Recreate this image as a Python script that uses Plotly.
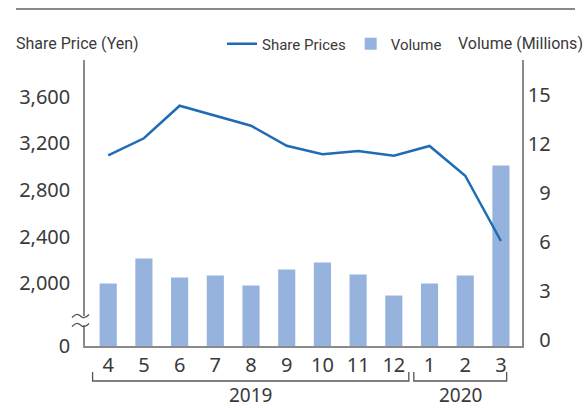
import plotly.graph_objects as go

months = ["4", "5", "6", "7", "8", "9", "10", "11", "12", "1", "2", "3"]
share_prices = [3096, 3242, 3521, 3433, 3350, 3178, 3105, 3133, 3093, 3176, 2921, 2362]
volume = [3.83, 5.36, 4.19, 4.32, 3.70, 4.68, 5.11, 4.38, 3.09, 3.83, 4.32, 11.05]
price_ticks = [2000, 2400, 2800, 3200, 3600]
volume_ticks = [0, 3, 6, 9, 12, 15]
years = [("2019", -0.437, 8.42), ("2020", 8.56, 11.16)]

W, H = 586, 408
ML, MR, MT, MB = 85, 64, 60, 62
PW, PH = W - ML - MR, H - MT - MB

def px(x):
    return (x - ML) / PW

def py(y):
    return (H - MB - y) / PH

TXT = "#3a3a3a"
AX = "#8a8a8a"
LINE = "#1f6bb6"
BAR = "#95b3dc"
FT = "Roboto, sans-serif"
FN = "Noto Sans, Open Sans, sans-serif"

price_bottom = 1462
price_top = price_bottom + PH / 0.11669

fig = go.Figure()
fig.add_trace(go.Scatter(x=months, y=share_prices, name="Share Prices", mode="lines",
                         line=dict(color=LINE, width=2.5), yaxis="y2"))
fig.add_trace(go.Bar(x=months, y=volume, name="Volume", marker=dict(color=BAR, line=dict(width=0)),
                     width=0.48, yaxis="y"))

shapes = [
    dict(type="line", xref="paper", yref="paper", x0=px(16), x1=px(575), y0=py(9), y1=py(9),
         line=dict(color="#606060", width=1.5)),
]
annotations = [
    dict(text="Share Price (Yen)", xref="paper", yref="paper", x=px(14), y=py(44),
         xanchor="left", yanchor="middle", showarrow=False, font=dict(family=FT, size=16, color=TXT)),
    dict(text="Volume (Millions)", xref="paper", yref="paper", x=px(585), y=py(44),
         xanchor="right", yanchor="middle", showarrow=False, font=dict(family=FT, size=16, color=TXT)),
]
for label, a, b in years:
    shapes.append(dict(type="path", xref="x", yref="paper",
                       path=f"M {a},{py(372)} L {a},{py(381)} L {b},{py(381)} L {b},{py(372)}",
                       line=dict(color="#555555", width=1.3)))
    annotations.append(dict(text=label, xref="x", yref="paper", x=(a + b) / 2, y=py(395),
                            xanchor="center", yanchor="middle", showarrow=False,
                            font=dict(family=FN, size=19, color=TXT)))

# axis break marker
shapes.append(dict(type="rect", xref="paper", yref="paper", x0=px(83), x1=px(87), y0=py(325), y1=py(316),
                   fillcolor="white", line=dict(width=0)))
for yy in (316, 325):
    x0, x1 = 72, 89
    xm = (x0 + x1) / 2
    path = (f"M {px(x0)},{py(yy + 1.5)} C {px(x0 + 4)},{py(yy - 3)} {px(xm - 2)},{py(yy - 2)} {px(xm)},{py(yy)} "
            f"C {px(xm + 2)},{py(yy + 2)} {px(x1 - 4)},{py(yy + 3)} {px(x1)},{py(yy - 1.5)}")
    shapes.append(dict(type="path", xref="paper", yref="paper", path=path,
                       line=dict(color="#555555", width=1.3)))

fig.update_layout(
    width=W, height=H,
    margin=dict(l=ML, r=MR, t=MT, b=MB, pad=0),
    paper_bgcolor="white", plot_bgcolor="white",
    showlegend=True,
    legend=dict(orientation="h", x=px(222), y=py(44), xanchor="left", yanchor="middle",
                font=dict(family=FT, size=15, color=TXT), bgcolor="rgba(0,0,0,0)",
                traceorder="normal", itemwidth=30),
    xaxis=dict(type="category", range=[-0.65, 11.59], showline=True, linecolor=AX, linewidth=1.5,
               ticks="", showgrid=False, zeroline=False,
               tickfont=dict(family=FN, size=20, color=TXT)),
    yaxis=dict(range=[0, PH / 16.33], side="right", showline=True, linecolor=AX,
               linewidth=1.5, ticks="", showgrid=False, zeroline=False,
               tickvals=volume_ticks,
               ticktext=[("\u2007" + str(v)) if v < 10 else str(v) for v in volume_ticks],
               ticklabelshift=-6, ticklabelstandoff=0,
               tickfont=dict(family=FN, size=20, color=TXT)),
    yaxis2=dict(range=[price_bottom, price_top], overlaying="y", side="left", showline=True,
                linecolor=AX, linewidth=1.5,
                ticks="", showgrid=False, zeroline=False,
                tickvals=[price_bottom] + price_ticks,
                ticktext=["0"] + [f"{v:,}" for v in price_ticks],
                ticklabelstandoff=9,
                tickfont=dict(family=FN, size=20, color=TXT)),
    shapes=shapes,
    annotations=annotations,
    bargap=0.5,
)

fig.write_html("out.html")
